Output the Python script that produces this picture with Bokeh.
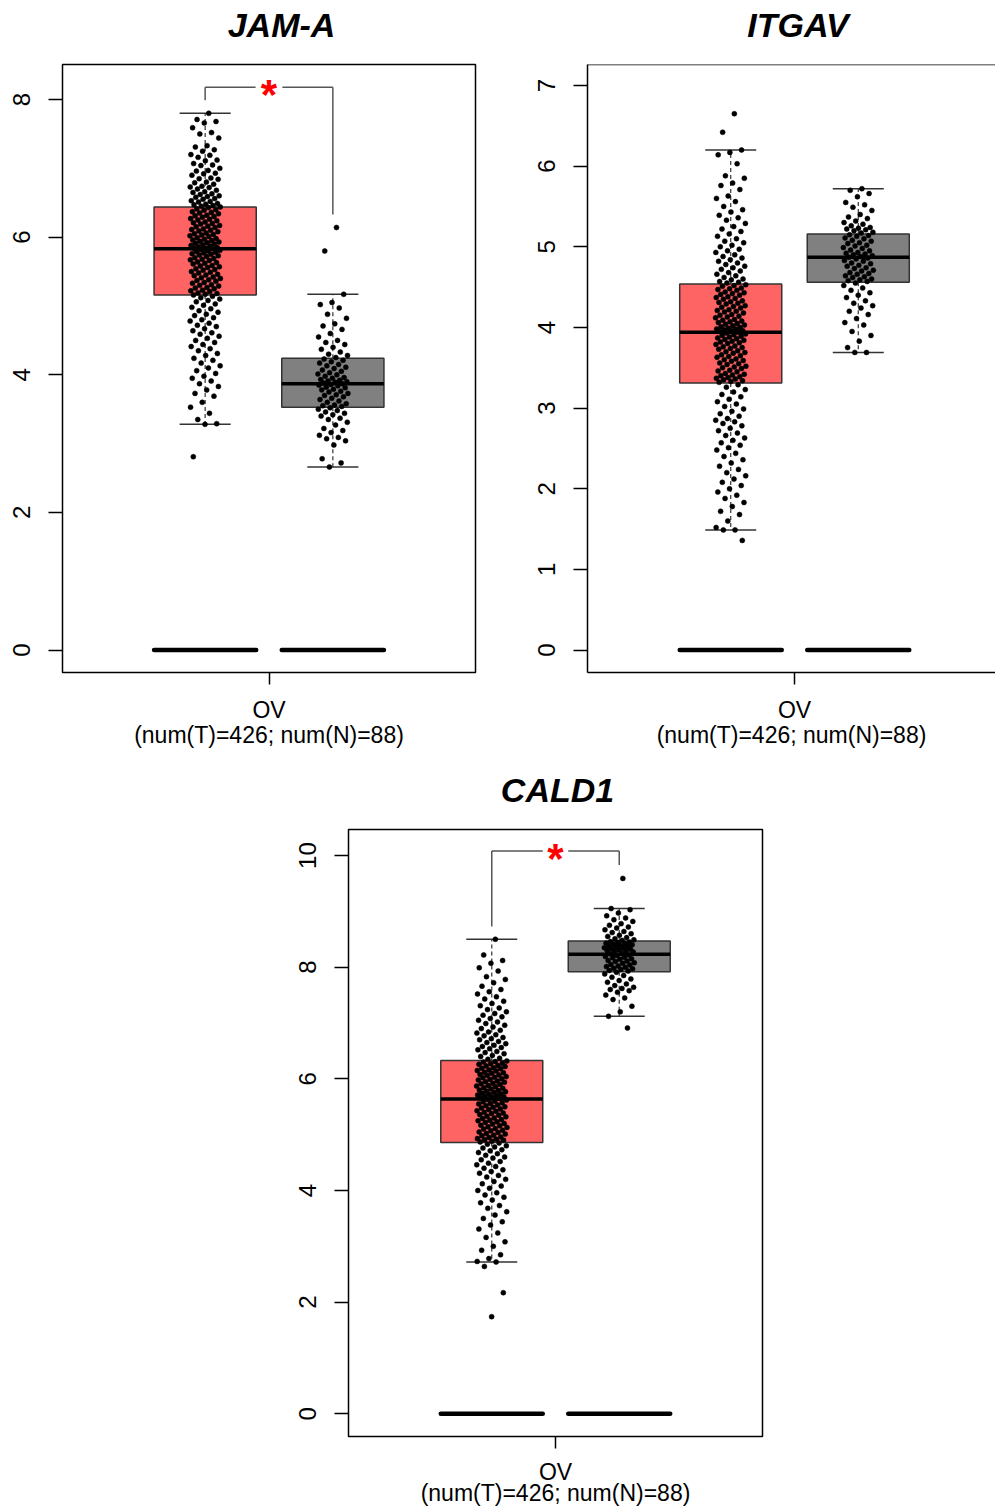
from bokeh.plotting import figure
from bokeh.layouts import column, row
from bokeh.models import Range1d, FixedTicker, Span, LinearAxis
from bokeh.core.properties import value
from bokeh.embed import file_html
from bokeh.resources import INLINE

# ---------------- data ----------------
genes = ["JAM-A", "ITGAV", "CALD1"]
group_names = ["Tumor", "Normal"]
cancer_label = "OV"
sample_note = "(num(T)=426; num(N)=88)"
significant = [True, False, True]

# box statistics: [lower whisker, Q1, median, Q3, upper whisker]
jam_t_stats = [3.28, 5.16, 5.83, 6.44, 7.80]
jam_n_stats = [2.66, 3.53, 3.87, 4.24, 5.17]
itg_t_stats = [1.49, 3.31, 3.94, 4.54, 6.20]
itg_n_stats = [3.69, 4.56, 4.87, 5.16, 5.72]
cal_t_stats = [2.72, 4.86, 5.64, 6.33, 8.50]
cal_n_stats = [7.12, 7.92, 8.23, 8.47, 9.05]

# per-sample expression values read from the dot clouds (estimated)
jam_t_vals = [
    7.80, 7.71, 7.68, 7.66, 7.59, 7.52, 7.50, 7.44, 7.33, 7.31, 7.27, 7.25, 7.20, 7.19, 7.16, 7.12, 7.11, 7.07,
    7.05, 7.04, 7.00, 6.97, 6.96, 6.93, 6.92, 6.90, 6.86, 6.85, 6.84, 6.80, 6.79, 6.77, 6.74, 6.73, 6.72, 6.70,
    6.68, 6.66, 6.65, 6.63, 6.62, 6.60, 6.59, 6.58, 6.56, 6.55, 6.53, 6.52, 6.51, 6.49, 6.48, 6.47, 6.46, 6.45,
    6.44, 6.43, 6.41, 6.40, 6.39, 6.37, 6.36, 6.35, 6.34, 6.32, 6.31, 6.30, 6.29, 6.27, 6.26, 6.25, 6.24, 6.22,
    6.21, 6.20, 6.19, 6.17, 6.16, 6.15, 6.14, 6.12, 6.11, 6.10, 6.09, 6.08, 6.06, 6.05, 6.04, 6.03, 6.02, 6.01,
    5.99, 5.98, 5.97, 5.96, 5.95, 5.94, 5.93, 5.92, 5.91, 5.90, 5.89, 5.88, 5.87, 5.86, 5.85, 5.84, 5.84, 5.83,
    5.82, 5.81, 5.80, 5.79, 5.78, 5.77, 5.76, 5.75, 5.74, 5.73, 5.72, 5.70, 5.69, 5.68, 5.67, 5.66, 5.64, 5.63,
    5.62, 5.61, 5.59, 5.58, 5.57, 5.56, 5.54, 5.53, 5.52, 5.50, 5.49, 5.48, 5.46, 5.45, 5.44, 5.42, 5.41, 5.40,
    5.38, 5.37, 5.36, 5.34, 5.33, 5.31, 5.30, 5.29, 5.27, 5.26, 5.25, 5.23, 5.22, 5.21, 5.19, 5.18, 5.17, 5.16,
    5.14, 5.12, 5.10, 5.08, 5.06, 5.03, 5.01, 4.98, 4.96, 4.93, 4.91, 4.88, 4.86, 4.83, 4.80, 4.78, 4.75, 4.72,
    4.70, 4.67, 4.64, 4.61, 4.59, 4.56, 4.53, 4.50, 4.47, 4.44, 4.41, 4.38, 4.35, 4.31, 4.28, 4.24, 4.21, 4.17,
    4.13, 4.10, 4.06, 4.02, 3.98, 3.95, 3.91, 3.87, 3.83, 3.78, 3.73, 3.69, 3.60, 3.53, 3.44, 3.35, 3.29, 3.28,
    2.81,
]
jam_n_vals = [
    6.14, 5.80, 5.17, 5.05, 5.02, 4.97, 4.88, 4.82, 4.74, 4.71, 4.66, 4.60, 4.55, 4.50, 4.47, 4.44, 4.40, 4.37,
    4.33, 4.30, 4.28, 4.25, 4.23, 4.21, 4.19, 4.17, 4.15, 4.13, 4.11, 4.09, 4.07, 4.05, 4.03, 4.01, 4.00, 3.98,
    3.96, 3.95, 3.93, 3.92, 3.91, 3.90, 3.89, 3.88, 3.87, 3.86, 3.85, 3.84, 3.82, 3.81, 3.79, 3.78, 3.76, 3.75,
    3.73, 3.71, 3.70, 3.68, 3.66, 3.64, 3.62, 3.60, 3.58, 3.56, 3.55, 3.54, 3.52, 3.50, 3.48, 3.46, 3.44, 3.42,
    3.40, 3.37, 3.35, 3.31, 3.27, 3.22, 3.19, 3.16, 3.12, 3.09, 3.07, 3.04, 2.98, 2.78, 2.72, 2.66,
]
itg_t_vals = [
    6.65, 6.42, 6.20, 6.17, 6.14, 6.03, 5.88, 5.85, 5.79, 5.76, 5.71, 5.63, 5.60, 5.56, 5.50, 5.46, 5.43, 5.39,
    5.36, 5.33, 5.29, 5.25, 5.22, 5.19, 5.16, 5.13, 5.10, 5.07, 5.05, 5.02, 5.00, 4.97, 4.95, 4.93, 4.90, 4.88,
    4.86, 4.84, 4.82, 4.80, 4.78, 4.76, 4.74, 4.72, 4.70, 4.68, 4.66, 4.64, 4.62, 4.60, 4.59, 4.57, 4.56, 4.55,
    4.53, 4.52, 4.51, 4.49, 4.48, 4.47, 4.46, 4.44, 4.43, 4.42, 4.41, 4.40, 4.38, 4.37, 4.36, 4.35, 4.33, 4.32,
    4.31, 4.30, 4.29, 4.27, 4.26, 4.25, 4.24, 4.22, 4.21, 4.20, 4.19, 4.18, 4.16, 4.15, 4.14, 4.13, 4.12, 4.10,
    4.09, 4.08, 4.07, 4.06, 4.05, 4.04, 4.03, 4.02, 4.01, 4.00, 3.99, 3.98, 3.98, 3.97, 3.96, 3.96, 3.95, 3.94,
    3.93, 3.92, 3.91, 3.90, 3.89, 3.88, 3.87, 3.86, 3.85, 3.84, 3.83, 3.82, 3.81, 3.80, 3.79, 3.77, 3.76, 3.75,
    3.74, 3.73, 3.71, 3.70, 3.69, 3.68, 3.66, 3.65, 3.64, 3.63, 3.61, 3.60, 3.59, 3.58, 3.56, 3.55, 3.54, 3.52,
    3.51, 3.50, 3.49, 3.47, 3.46, 3.45, 3.43, 3.42, 3.41, 3.40, 3.39, 3.38, 3.37, 3.36, 3.35, 3.34, 3.33, 3.32,
    3.29, 3.26, 3.23, 3.20, 3.17, 3.14, 3.11, 3.08, 3.05, 3.02, 2.99, 2.96, 2.93, 2.90, 2.87, 2.85, 2.83, 2.81,
    2.78, 2.75, 2.72, 2.69, 2.66, 2.63, 2.60, 2.57, 2.54, 2.51, 2.48, 2.44, 2.40, 2.36, 2.32, 2.28, 2.24, 2.20,
    2.16, 2.12, 2.08, 2.04, 2.00, 1.96, 1.92, 1.88, 1.83, 1.78, 1.72, 1.68, 1.60, 1.52, 1.49, 1.49, 1.36,
]
itg_n_vals = [
    5.72, 5.70, 5.66, 5.62, 5.55, 5.52, 5.49, 5.45, 5.40, 5.37, 5.35, 5.32, 5.30, 5.28, 5.26, 5.24, 5.23, 5.22,
    5.21, 5.20, 5.18, 5.17, 5.15, 5.14, 5.13, 5.11, 5.10, 5.08, 5.07, 5.05, 5.04, 5.02, 5.01, 4.99, 4.98, 4.96,
    4.95, 4.93, 4.92, 4.91, 4.90, 4.89, 4.88, 4.87, 4.86, 4.85, 4.83, 4.82, 4.80, 4.79, 4.77, 4.76, 4.74, 4.73,
    4.71, 4.70, 4.68, 4.67, 4.66, 4.64, 4.63, 4.62, 4.60, 4.59, 4.58, 4.57, 4.55, 4.52, 4.49, 4.46, 4.43, 4.40,
    4.37, 4.33, 4.30, 4.27, 4.24, 4.20, 4.16, 4.11, 4.06, 4.03, 3.95, 3.90, 3.83, 3.75, 3.69, 3.69,
]
cal_t_vals = [
    8.50, 8.22, 8.12, 8.07, 7.99, 7.93, 7.83, 7.78, 7.72, 7.66, 7.60, 7.56, 7.52, 7.47, 7.43, 7.39, 7.35, 7.31,
    7.27, 7.24, 7.20, 7.17, 7.14, 7.11, 7.08, 7.05, 7.02, 6.99, 6.96, 6.93, 6.90, 6.87, 6.84, 6.82, 6.79, 6.77,
    6.74, 6.72, 6.70, 6.67, 6.65, 6.63, 6.60, 6.58, 6.56, 6.54, 6.52, 6.49, 6.47, 6.45, 6.42, 6.40, 6.37, 6.35,
    6.32, 6.31, 6.30, 6.28, 6.27, 6.26, 6.24, 6.23, 6.22, 6.20, 6.19, 6.18, 6.16, 6.15, 6.14, 6.12, 6.11, 6.10,
    6.08, 6.07, 6.06, 6.04, 6.03, 6.02, 6.00, 5.99, 5.98, 5.96, 5.95, 5.94, 5.92, 5.91, 5.90, 5.88, 5.87, 5.86,
    5.84, 5.83, 5.82, 5.80, 5.79, 5.78, 5.77, 5.76, 5.74, 5.73, 5.72, 5.71, 5.70, 5.69, 5.68, 5.67, 5.66, 5.65,
    5.63, 5.62, 5.60, 5.59, 5.57, 5.56, 5.55, 5.53, 5.52, 5.50, 5.49, 5.48, 5.46, 5.45, 5.43, 5.42, 5.40, 5.39,
    5.38, 5.36, 5.35, 5.33, 5.32, 5.30, 5.29, 5.27, 5.26, 5.25, 5.23, 5.22, 5.20, 5.19, 5.17, 5.16, 5.14, 5.13,
    5.11, 5.10, 5.08, 5.07, 5.05, 5.04, 5.02, 5.01, 4.99, 4.98, 4.96, 4.95, 4.93, 4.92, 4.91, 4.90, 4.88, 4.87,
    4.85, 4.83, 4.80, 4.78, 4.76, 4.73, 4.71, 4.68, 4.66, 4.63, 4.60, 4.58, 4.55, 4.52, 4.49, 4.46, 4.43, 4.40,
    4.37, 4.34, 4.31, 4.27, 4.24, 4.20, 4.16, 4.12, 4.08, 4.04, 4.00, 3.96, 3.92, 3.88, 3.83, 3.78, 3.73, 3.68,
    3.62, 3.56, 3.50, 3.44, 3.38, 3.31, 3.24, 3.16, 3.08, 3.00, 2.93, 2.85, 2.78, 2.73, 2.72, 2.64, 2.17, 1.74,
]
cal_n_vals = [
    9.59, 9.05, 9.03, 8.97, 8.92, 8.88, 8.85, 8.82, 8.78, 8.75, 8.72, 8.70, 8.67, 8.64, 8.62, 8.60, 8.57, 8.55,
    8.53, 8.51, 8.49, 8.48, 8.46, 8.45, 8.44, 8.43, 8.42, 8.41, 8.40, 8.39, 8.38, 8.37, 8.36, 8.35, 8.34, 8.33,
    8.32, 8.31, 8.30, 8.29, 8.28, 8.27, 8.25, 8.24, 8.22, 8.21, 8.19, 8.18, 8.17, 8.15, 8.14, 8.12, 8.11, 8.10,
    8.08, 8.07, 8.05, 8.04, 8.02, 8.01, 8.00, 7.98, 7.97, 7.96, 7.94, 7.93, 7.91, 7.88, 7.85, 7.82, 7.79, 7.76,
    7.73, 7.70, 7.67, 7.64, 7.62, 7.60, 7.58, 7.55, 7.50, 7.45, 7.42, 7.30, 7.20, 7.12, 6.91,
]

jam_ticks = [0, 2, 4, 6, 8]
itg_ticks = [0, 1, 2, 3, 4, 5, 6, 7]
cal_ticks = [0, 2, 4, 6, 8, 10]

# ---------------- styling / layout ----------------
FONT = "Liberation Sans"
TUMOR_COL = "#FF6464"
NORMAL_COL = "#808080"
EDGE = "#333333"
BRACKET = "#555555"
POS = [-0.5, 0.5]
BOX_W = 0.8
CAP_W = 0.4
JIT = 0.12


def jitter(n):
    g = 0.6180339887
    return [(((i + 1) * g) % 1.0 - 0.5) * 2 * JIT for i in range(n)]


def make_panel(gene, stats, vals, ticks, xr, yr, width, height, mb_left, mb_right, mb_top, mb_bottom,
               title_dx, bracket=None, full_outline=True, lab_standoff=12, note_standoff=-4):
    p = figure(width=width, height=height, x_range=Range1d(*xr), y_range=Range1d(*yr),
               output_backend="svg", toolbar_location=None,
               min_border_left=mb_left, min_border_right=mb_right,
               min_border_top=mb_top, min_border_bottom=mb_bottom)
    xa = p.below[0]
    ya = p.left[0]
    p.grid.visible = False
    p.background_fill_color = "white"
    p.border_fill_color = "white"
    if full_outline:
        p.outline_line_color = "black"
        p.outline_line_width = 1.5
    else:
        p.outline_line_color = None

    # y axis
    ya.ticker = FixedTicker(ticks=ticks)
    ya.minor_tick_line_color = None
    ya.major_tick_out = 14
    ya.major_tick_in = 0
    ya.major_tick_line_width = 1.5
    ya.major_tick_line_color = "black"
    ya.major_label_orientation = "vertical"
    ya.major_label_text_font = FONT
    ya.major_label_text_font_size = "24px"
    ya.major_label_text_color = "black"
    ya.major_label_standoff = 18
    ya.axis_line_color = None if full_outline else "black"
    ya.axis_line_width = 1.5

    # x axis
    xa.ticker = FixedTicker(ticks=[0])
    xa.major_label_overrides = {0: cancer_label}
    xa.minor_tick_line_color = None
    xa.major_tick_out = 12
    xa.major_tick_in = 0
    xa.major_tick_line_width = 1.5
    xa.major_tick_line_color = "black"
    xa.major_label_text_font = FONT
    xa.major_label_text_font_size = "23px"
    xa.major_label_text_color = "black"
    xa.major_label_standoff = lab_standoff
    xa.axis_label = sample_note
    xa.axis_label_text_font = FONT
    xa.axis_label_text_font_size = "23px"
    xa.axis_label_text_font_style = "normal"
    xa.axis_label_text_color = "black"
    xa.axis_label_standoff = note_standoff
    xa.axis_line_color = None if full_outline else "black"
    xa.axis_line_width = 1.5

    # title: single label on an invisible top axis (lets it sit off-centre like the original)
    ta = LinearAxis(ticker=FixedTicker(ticks=[title_dx]), major_label_overrides={title_dx: gene})
    ta.axis_line_color = None
    ta.major_tick_line_color = None
    ta.minor_tick_line_color = None
    ta.major_tick_out = 0
    ta.major_tick_in = 0
    ta.major_label_standoff = 21
    ta.major_label_text_font = FONT
    ta.major_label_text_font_size = "34px"
    ta.major_label_text_font_style = "bold italic"
    ta.major_label_text_color = "black"
    p.add_layout(ta, "above")

    if not full_outline:
        p.add_layout(Span(location=yr[1], dimension="width", line_color="black", line_width=1.5))

    cols = [TUMOR_COL, NORMAL_COL]
    # zero bars
    p.segment(x0=[c - BOX_W / 2 for c in POS], x1=[c + BOX_W / 2 for c in POS], y0=[0, 0], y1=[0, 0],
              line_color="black", line_width=4.5, line_cap="round")
    # whiskers (dashed)
    for c, s in zip(POS, stats):
        p.segment(x0=[c, c], x1=[c, c], y0=[s[3], s[1]], y1=[s[4], s[0]],
                  line_color=EDGE, line_width=1.2, line_dash="4 3")
        p.segment(x0=[c - CAP_W / 2] * 2, x1=[c + CAP_W / 2] * 2, y0=[s[4], s[0]], y1=[s[4], s[0]],
                  line_color=EDGE, line_width=1.5)
    # boxes
    p.vbar(x=POS, width=BOX_W, bottom=[s[1] for s in stats], top=[s[3] for s in stats],
           fill_color=cols, line_color=EDGE, line_width=1.5)
    # points
    for c, v in zip(POS, vals):
        jx = jitter(len(v))
        p.scatter(x=[c + j for j in jx], y=v, size=5, fill_color="black", line_color="black", line_width=0.5)
    # medians
    p.segment(x0=[c - BOX_W / 2 for c in POS], x1=[c + BOX_W / 2 for c in POS],
              y0=[s[2] for s in stats], y1=[s[2] for s in stats], line_color="black", line_width=3.5)

    if bracket is not None:
        ytop, yleft, yright, gap = bracket
        p.segment(x0=[POS[0], POS[0], 0 + gap, POS[1]], x1=[POS[0], -gap, POS[1], POS[1]],
                  y0=[yleft, ytop, ytop, ytop], y1=[ytop, ytop, ytop, yright],
                  line_color=BRACKET, line_width=1.5)
        p.text(x=[0], y=[ytop], text=["*"], text_color="red", text_font=value(FONT),
               text_font_size="42px", text_font_style="bold", text_align="center",
               text_baseline="middle", y_offset=[7])
    return p


p1 = make_panel(genes[0], [jam_t_stats, jam_n_stats], [jam_t_vals, jam_n_vals], jam_ticks,
                (-1.617, 1.617), (-0.326, 8.509), 500, 750, 62, 25, 64, 78, 0.098,
                bracket=(8.18, 7.99, 6.33, 0.105))
p2 = make_panel(genes[1], [itg_t_stats, itg_n_stats], [itg_t_vals, itg_n_vals], itg_ticks,
                (-1.623, 1.576), (-0.278, 7.26), 495, 750, 87, 0, 64, 78, 0.027,
                bracket=None, full_outline=False)
p3 = make_panel(genes[2], [cal_t_stats, cal_n_stats], [cal_t_vals, cal_n_vals], cal_ticks,
                (-1.624, 1.624), (-0.406, 10.466), 995, 760, 348, 233, 79, 74, 0.016,
                bracket=(10.08, 8.73, 9.83, 0.1), lab_standoff=10, note_standoff=-8)

layout = column(row(p1, p2, spacing=0), p3, spacing=0)
open("out.html", "w").write(file_html(layout, INLINE))
